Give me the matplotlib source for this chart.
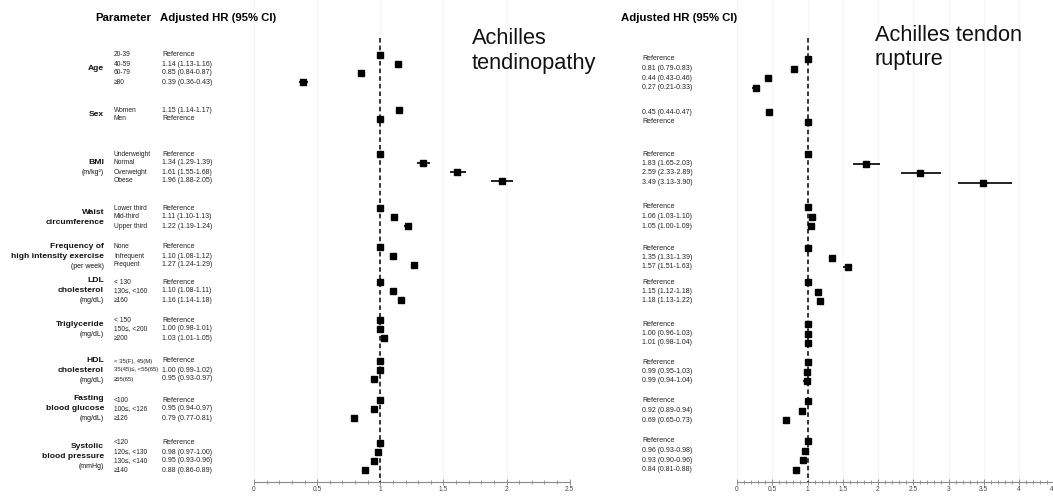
import matplotlib.pyplot as plt
import numpy as np

plt.rcParams['font.family'] = ['Liberation Sans', 'DejaVu Sans']

# parameters and categories
group_names = [["Age"], ["Sex"], ["BMI"], ["Waist", "circumference"],
               ["Frequency of", "high intensity exercise"], ["LDL", "cholesterol"],
               ["Triglyceride"], ["HDL", "cholesterol"], ["Fasting", "blood glucose"],
               ["Systolic", "blood pressure"]]
group_units = ["", "", "(m/kg\u00b2)", "", "(per week)", "(mg/dL)", "(mg/dL)",
               "(mg/dL)", "(mg/dL)", "(mmHg)"]
categories = [["20-39", "40-59", "60-79", "\u226580"],
              ["Women", "Men"],
              ["Underweight", "Normal", "Overweight", "Obese"],
              ["Lower third", "Mid-third", "Upper third"],
              ["None", "Infrequent", "Frequent"],
              ["< 130", "130\u2264, <160", "\u2265160"],
              ["< 150", "150\u2264, <200", "\u2265200"],
              ["< 35(F), 45(M)", "35(45)\u2264, <55(65)", "\u226555(65)"],
              ["<100", "100\u2264, <126", "\u2265126"],
              ["<120", "120\u2264, <130", "130\u2264, <140", "\u2265140"]]

# None = reference category
tend_hr = [None, 1.14, 0.85, 0.39, 1.15, None, None, 1.34, 1.61, 1.96, None, 1.11, 1.22,
           None, 1.10, 1.27, None, 1.10, 1.16, None, 1.00, 1.03, None, 1.00, 0.95,
           None, 0.95, 0.79, None, 0.98, 0.95, 0.88]
tend_lo = [None, 1.13, 0.84, 0.36, 1.14, None, None, 1.29, 1.55, 1.88, None, 1.10, 1.19,
           None, 1.08, 1.24, None, 1.08, 1.14, None, 0.98, 1.01, None, 0.99, 0.93,
           None, 0.94, 0.77, None, 0.97, 0.93, 0.86]
tend_hi = [None, 1.16, 0.87, 0.43, 1.17, None, None, 1.39, 1.68, 2.05, None, 1.13, 1.24,
           None, 1.12, 1.29, None, 1.11, 1.18, None, 1.01, 1.05, None, 1.02, 0.97,
           None, 0.97, 0.81, None, 1.00, 0.96, 0.89]

rupt_hr = [None, 0.81, 0.44, 0.27, 0.45, None, None, 1.83, 2.59, 3.49, None, 1.06, 1.05,
           None, 1.35, 1.57, None, 1.15, 1.18, None, 1.00, 1.01, None, 0.99, 0.99,
           None, 0.92, 0.69, None, 0.96, 0.93, 0.84]
rupt_lo = [None, 0.79, 0.43, 0.21, 0.44, None, None, 1.65, 2.33, 3.13, None, 1.03, 1.00,
           None, 1.31, 1.51, None, 1.12, 1.13, None, 0.96, 0.98, None, 0.95, 0.94,
           None, 0.89, 0.65, None, 0.93, 0.90, 0.81]
rupt_hi = [None, 0.83, 0.46, 0.33, 0.47, None, None, 2.03, 2.89, 3.90, None, 1.10, 1.09,
           None, 1.39, 1.63, None, 1.18, 1.22, None, 1.03, 1.04, None, 1.03, 1.04,
           None, 0.94, 0.73, None, 0.98, 0.96, 0.88]

W, H = 1053, 496
AXIS_Y = 482

fig = plt.figure(figsize=(W / 100, H / 100), dpi=100)


def row_positions(starts, step):
    ys = []
    for s, cats in zip(starts, categories):
        ys += [s + step * i for i in range(len(cats))]
    return ys


left_y = row_positions([55, 110, 154, 208, 247, 282, 320, 361, 400, 443], 9)
right_y = row_positions([59, 112, 154, 207, 248, 282, 324, 362, 401, 441], 9.5)


def hr_text(hr, lo, hi):
    if hr is None:
        return "Reference"
    return "%.2f (%.2f-%.2f)" % (hr, lo, hi)


def forest(x0, px_per_unit, xmax, ys, hr, lo, hi):
    ax = fig.add_axes([x0 / W, (H - AXIS_Y) / H, xmax * px_per_unit / W, AXIS_Y / H])
    ax.patch.set_visible(False)
    ax.set_xlim(0, xmax)
    ax.set_ylim(AXIS_Y, 0)
    for s in ['top', 'left', 'right']:
        ax.spines[s].set_visible(False)
    ax.spines['bottom'].set_color('#8a8a8a')
    ax.spines['bottom'].set_linewidth(0.8)
    ax.set_yticks([])
    ax.set_xticks(np.arange(0, xmax + 0.01, 0.5))
    ax.set_xticks(np.arange(0, xmax + 0.01, 0.1), minor=True)
    ax.set_xticklabels(["%g" % v for v in np.arange(0, xmax + 0.01, 0.5)])
    ax.tick_params(axis='x', which='major', direction='inout', length=4, width=0.7,
                   color='#8a8a8a', labelsize=4.8, labelcolor='#444444', pad=1)
    ax.tick_params(axis='x', which='minor', direction='inout', length=2.5, width=0.6,
                   color='#8a8a8a')
    ax.grid(axis='x', which='major', color='#f5f5f5', lw=0.8)
    ax.plot([1, 1], [38, AXIS_Y], color='black', lw=1.1, ls=(0, (3, 2)))
    h = np.array([1.0 if v is None else v for v in hr])
    l = np.array([1.0 if v is None else v for v in lo])
    u = np.array([1.0 if v is None else v for v in hi])
    ax.errorbar(h, ys, xerr=[h - l, u - h], fmt='s', color='black', ecolor='#222222',
                ms=4.2, elinewidth=1.4, capsize=0, zorder=3)
    return ax


forest(254, 126.3, 2.5, left_y, tend_hr, tend_lo, tend_hi)
forest(737, 70.5, 4.5, right_y, rupt_hr, rupt_lo, rupt_hi)

# text layer on top, in pixel coordinates
canvas = fig.add_axes([0, 0, 1, 1])
canvas.patch.set_visible(False)
canvas.set_xlim(0, W)
canvas.set_ylim(H, 0)
canvas.axis('off')

# headers
canvas.text(95, 18, "Parameter", fontsize=8.2, fontweight='bold', va='center')
canvas.text(160, 18, "Adjusted HR (95% CI)", fontsize=8.2, fontweight='bold', va='center')
canvas.text(621, 18, "Adjusted HR (95% CI)", fontsize=8.2, fontweight='bold', va='center')

# panel titles
canvas.text(472, 44.5, "Achilles", fontsize=15.7, color='#111111')
canvas.text(472, 69, "tendinopathy", fontsize=15.7, color='#111111')
canvas.text(875, 41, "Achilles tendon", fontsize=15.7, color='#111111')
canvas.text(875, 65, "rupture", fontsize=15.7, color='#111111')

# group labels
i = 0
for names, unit, cats in zip(group_names, group_units, categories):
    ys = left_y[i:i + len(cats)]
    center = (ys[0] + ys[-1]) / 2
    lines = [(n, 'bold', 6.1) for n in names]
    if unit:
        lines.append((unit, 'normal', 5.0))
    for k, (txt, wt, fs) in enumerate(lines):
        yy = center + 10 * (k - (len(lines) - 1) / 2)
        canvas.text(104, yy, txt, fontsize=fs, fontweight=wt, ha='right', va='center',
                    color='#111111')
    for c, yy in zip(cats, ys):
        fs = 4.3 if "(" in c else 4.8
        canvas.text(114, yy, c, fontsize=fs, va='center', color='#222222')
    i += len(cats)

for k in range(len(left_y)):
    canvas.text(162, left_y[k], hr_text(tend_hr[k], tend_lo[k], tend_hi[k]),
                fontsize=5.0, va='center', color='#222222')
    canvas.text(642, right_y[k], hr_text(rupt_hr[k], rupt_lo[k], rupt_hi[k]),
                fontsize=5.0, va='center', color='#222222')

fig.savefig("out.png", dpi=100)
